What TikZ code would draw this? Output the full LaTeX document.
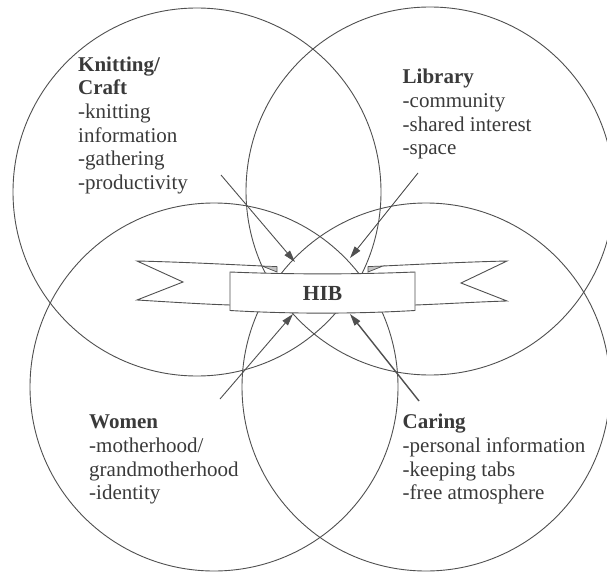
\documentclass[tikz,border=0pt]{standalone}
\usepackage{fontspec}
\setmainfont{Liberation Serif}
\usetikzlibrary{arrows.meta}

\definecolor{inkline}{HTML}{505050}
\definecolor{inktext}{HTML}{3A3A3A}
\definecolor{foldgray}{HTML}{C4C4C4}

\tikzset{
  ring/.style={draw=inkline, line width=0.9pt},
  labelblock/.style={anchor=base west, inner sep=0pt, text=inktext,
    font=\fontsize{21}{23.7}\selectfont},
  pointer/.style={draw=inkline, line width=0.9pt,
    -{Triangle[length=12pt,width=7pt]}},
  ribbonedge/.style={draw=inkline, line width=0.9pt},
  ribbonfold/.style={draw=inkline, line width=0.7pt, fill=foldgray},
}
\newcommand{\stacklines}[1]{\begin{tabular}[t]{@{}l@{}}#1\end{tabular}}

\begin{document}
\begin{tikzpicture}[x=1pt,y=-1pt]
\useasboundingbox (0,0) rectangle (607,572);
\fill[white] (0,0) rectangle (607,572);

% four overlapping circles
\draw[ring] (197,192) circle[radius=184pt];
\draw[ring] (430,191) circle[radius=184pt];
\draw[ring] (214,387) circle[radius=184pt];
\draw[ring] (426,387) circle[radius=184pt];

% arrows towards the banner
\coordinate (knitFrom) at (221,175);
\coordinate (knitTo)   at (295,262);
\coordinate (libFrom)  at (418,173);
\coordinate (libTo)    at (350,258);
\coordinate (womFrom)  at (220,399);
\coordinate (womTo)    at (293,314);
\coordinate (carFrom)  at (419,401);
\coordinate (carTo)    at (350,314);
\draw[pointer] (knitFrom) -- (knitTo);
\draw[pointer] (libFrom) -- (libTo);
\draw[pointer] (womFrom) -- (womTo);
\draw[pointer, line width=1.4pt] (carFrom) -- (carTo);

% banner: left tail
\fill[white] (262,266) .. controls (220,264) and (180,262) .. (137,261)
  -- (183,282) -- (137,300) .. controls (170,302) and (200,304) .. (232,305)
  -- (232,272) -- cycle;
\draw[ribbonedge] (262,266) .. controls (220,264) and (180,262) .. (137,261)
  -- (183,282) -- (137,300) .. controls (170,302) and (200,304) .. (230,305);
\draw[ribbonfold] (262,266) -- (277,266.6) -- (277,272) -- cycle;

% banner: right tail
\fill[white] (383,266) .. controls (425,264) and (465,262) .. (507,261)
  -- (461,283) -- (507,301) .. controls (474,302) and (444,304) .. (413,305)
  -- (413,272) -- cycle;
\draw[ribbonedge] (383,266) .. controls (425,264) and (465,262) .. (507,261)
  -- (461,283) -- (507,301) .. controls (474,302) and (444,304) .. (415,305);
\draw[ribbonfold] (383,266) -- (368,266.6) -- (368,272) -- cycle;

% banner: front panel
\path[ribbonedge, fill=white]
  (230,272) .. controls (290,274.5) and (355,274.5) .. (415,272)
  -- (415,310.5) .. controls (355,314) and (290,314) .. (230,310.5) -- cycle;
\node[text=inktext, font=\fontsize{21.5}{24}\selectfont\bfseries, inner sep=0pt]
  (hib) at (322.5,293.5) {HIB};

% category texts
\node[labelblock] (knitting) at (78,71.1)
  {\stacklines{\textbf{Knitting/}\\\textbf{Craft}\\-knitting\\information\\-gathering\\-productivity}};
\node[labelblock] (library) at (402.5,83.9)
  {\stacklines{\textbf{Library}\\-community\\-shared interest\\-space}};
\node[labelblock] (women) at (89,428.7)
  {\stacklines{\textbf{Women}\\-motherhood/\\grandmotherhood\\-identity}};
\node[labelblock] (caring) at (402.5,428.7)
  {\stacklines{\textbf{Caring}\\-personal information\\-keeping tabs\\-free atmosphere}};
\end{tikzpicture}
\end{document}
